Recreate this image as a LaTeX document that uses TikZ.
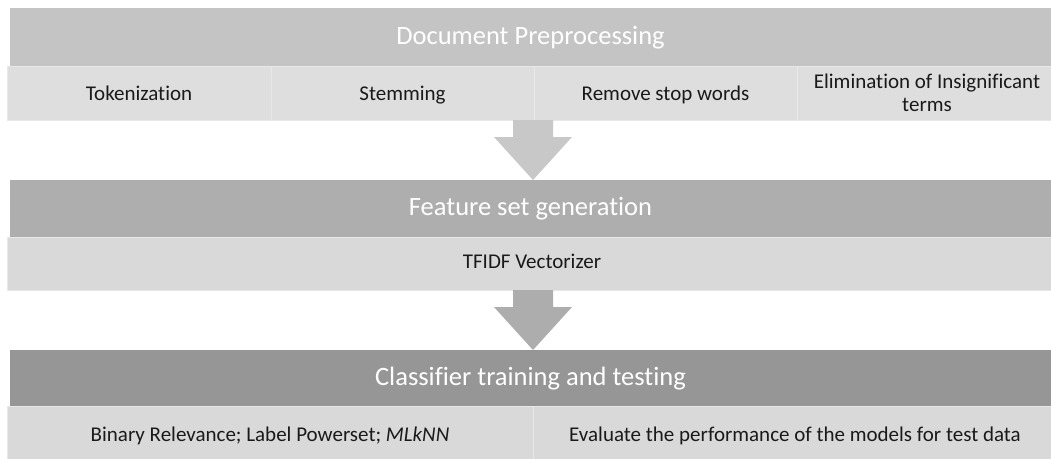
\documentclass[tikz,border=0pt]{standalone}
\usepackage{fontspec}
\setmainfont{Carlito}[Ligatures=NoCommon]
\usetikzlibrary{calc}

\definecolor{hdrA}{HTML}{C4C4C4}
\definecolor{hdrB}{HTML}{AEAEAE}
\definecolor{hdrC}{HTML}{969696}
\definecolor{subA}{HTML}{DEDEDE}
\definecolor{subB}{HTML}{D9D9D9}
\definecolor{cellline}{HTML}{E8E8E8}
\definecolor{arrA}{HTML}{C8C8C8}
\definecolor{arrB}{HTML}{ADADAD}
\definecolor{ink}{HTML}{1A1A1A}

\tikzset{
  header/.style={rectangle, anchor=north west, inner sep=0pt, outer sep=0pt,
    minimum width=1041pt, minimum height=58pt, text=white,
    text height=19pt, text depth=4.4pt,
    font=\fontsize{26.5}{30}\selectfont},
  cell/.style={rectangle, anchor=north west, inner sep=0pt, outer sep=0pt,
    draw=cellline, line width=1pt, text=ink, align=center,
    font=\fontsize{21}{23.5}\selectfont},
  lowline/.style={text height=17pt, text depth=3pt},
  midline/.style={text height=14.6pt, text depth=5pt}
}

\begin{document}
\begin{tikzpicture}[x=1pt,y=-1pt]
\useasboundingbox[fill=white] (0,0) rectangle (1051,458);

% stage 1: preprocessing
\node[header, fill=hdrA] (h1) at (10,8) {Document Preprocessing};
\node[cell, lowline, fill=subA, minimum width=264pt, minimum height=54pt] (t1) at (7,66) {Tokenization};
\node[cell, lowline, fill=subA, minimum width=263pt, minimum height=54pt] (t2) at (271,66) {Stemming};
\node[cell, lowline, fill=subA, minimum width=263pt, minimum height=54pt] (t3) at (534,66) {Remove stop words};
\node[cell, fill=subA, minimum width=260pt, minimum height=54pt] (t4) at (797,66) {Elimination of Insignificant\\terms};

% stage 2: features
\node[header, fill=hdrB, minimum height=57pt] (h2) at (10,180) {Feature set generation};
\node[cell, midline, fill=subB, minimum width=1050pt, minimum height=53pt] (f1) at (7,237) {TFIDF Vectorizer};

% stage 3: classifiers
\node[header, fill=hdrC, minimum height=56pt] (h3) at (10,350) {Classifier training and testing};
\node[cell, lowline, fill=subB, minimum width=526pt, minimum height=56pt] (c1) at (7,406)
  {Binary Relevance; Label Powerset; \textit{MLkNN}};
\node[cell, lowline, fill=subB, minimum width=524pt, minimum height=56pt] (c2) at (533,406)
  {Evaluate the performance of the models for test data};

% block arrows between the stages
\coordinate (a1top) at (533,120);
\coordinate (a1tip) at (h2.north -| a1top);
\fill[arrA] ($(a1top)+(-20,0)$) -- ($(a1top)+(20,0)$) -- ($(a1tip)+(20,-43)$)
  -- ($(a1tip)+(39,-43)$) -- (a1tip) -- ($(a1tip)+(-39,-43)$)
  -- ($(a1tip)+(-20,-43)$) -- cycle;

\coordinate (a2top) at (533,290);
\coordinate (a2tip) at (h3.north -| a2top);
\fill[arrB] ($(a2top)+(-20,0)$) -- ($(a2top)+(20,0)$) -- ($(a2tip)+(20,-43)$)
  -- ($(a2tip)+(39,-43)$) -- (a2tip) -- ($(a2tip)+(-39,-43)$)
  -- ($(a2tip)+(-20,-43)$) -- cycle;
\end{tikzpicture}
\end{document}
